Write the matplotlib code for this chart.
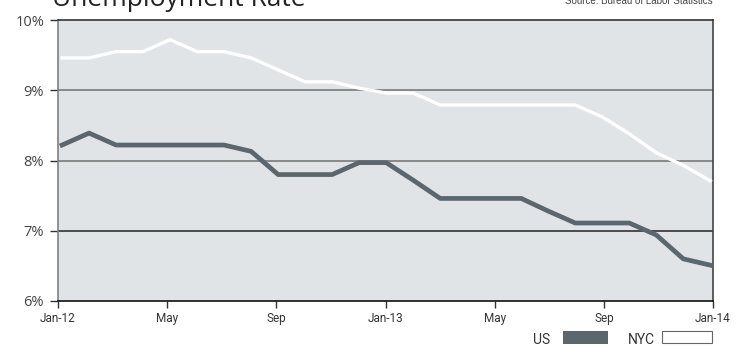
import matplotlib.pyplot as plt
import matplotlib.patches as patches
import numpy as np

months = ['Jan-12', 'Feb', 'Mar', 'Apr', 'May', 'Jun', 'Jul', 'Aug', 'Sep', 'Oct', 'Nov', 'Dec',
          'Jan-13', 'Feb', 'Mar', 'Apr', 'May', 'Jun', 'Jul', 'Aug', 'Sep', 'Oct', 'Nov', 'Dec',
          'Jan-14']
us_rate = [8.22, 8.39, 8.22, 8.22, 8.22, 8.22, 8.22, 8.13, 7.80, 7.80, 7.80, 7.97,
           7.97, 7.72, 7.46, 7.46, 7.46, 7.46, 7.28, 7.11, 7.11, 7.11, 6.94, 6.60,
           6.51]
nyc_rate = [9.46, 9.46, 9.55, 9.55, 9.72, 9.55, 9.55, 9.46, 9.29, 9.12, 9.12, 9.03,
            8.96, 8.96, 8.79, 8.79, 8.79, 8.79, 8.79, 8.79, 8.62, 8.38, 8.11, 7.93,
            7.71]
tick_labels = ['Jan-12', 'May', 'Sep', 'Jan-13', 'May', 'Sep', 'Jan-14']
y_ticks = [6, 7, 8, 9, 10]

US_COLOR = '#5b666d'
BG = '#e1e4e7'
NARROW = ['Liberation Sans Narrow', 'Roboto', 'DejaVu Sans']

fig = plt.figure(figsize=(7.43, 3.46), dpi=100)
ax = fig.add_axes([58 / 743, 1 - 301 / 346, 655 / 743, 281 / 346])
ax.set_facecolor(BG)

x = np.arange(len(months))
x0, x1 = -0.15, len(months) - 1 + 0.1
ax.set_xlim(x0, x1)
ax.set_ylim(6, 10)

# gridlines
for v, c in [(7, '#222222'), (8, '#707070'), (9, '#707070')]:
    ax.axhline(v, color=c, lw=1.1, zorder=1)

ax.plot(x, nyc_rate, color='white', lw=2.4, zorder=3)
ax.plot(x, us_rate, color=US_COLOR, lw=3.4, zorder=3)

ax.set_yticks(y_ticks)
ax.set_yticklabels([f'{v}%' for v in y_ticks], fontsize=10.5, color='#444444', family='Open Sans')
ax.set_xticks(np.linspace(x0, x1, len(tick_labels)))
ax.set_xticklabels(tick_labels, fontsize=8.5, color='#333333', family=NARROW)
ax.tick_params(axis='y', length=6, width=1, color='#333333', pad=4)
ax.tick_params(axis='x', length=5, width=1, color='#333333', pad=3)

ax.spines['top'].set_color('#333333')
ax.spines['left'].set_color('#808080')
ax.spines['right'].set_color('#444444')
ax.spines['bottom'].set_color('#111111')
for s in ax.spines.values():
    s.set_linewidth(1.2)

fig.text(52 / 743, 1 - 6 / 346, 'Unemployment Rate', fontsize=19, family='Open Sans',
         color='#222222', ha='left', va='baseline')
fig.text(713 / 743, 1 - 4 / 346, 'Source: Bureau of Labor Statistics', fontsize=7,
         family='Liberation Sans', color='#444444', ha='right', va='baseline')

# legend
fig.text(550 / 743, 1 - 344 / 346, 'US', fontsize=10, family=NARROW, color='#333333',
         ha='right', va='baseline')
fig.patches.append(patches.Rectangle((563 / 743, 1 - 344 / 346), 45 / 743, 13 / 346,
                                     transform=fig.transFigure, facecolor=US_COLOR,
                                     edgecolor='none'))
fig.text(655 / 743, 1 - 344 / 346, 'NYC', fontsize=10, family=NARROW, color='#333333',
         ha='right', va='baseline')
fig.patches.append(patches.Rectangle((662 / 743, 1 - 343 / 346), 50 / 743, 12 / 346,
                                     transform=fig.transFigure, facecolor='white',
                                     edgecolor='#666666', lw=0.8))

fig.savefig('out.png', dpi=100)
